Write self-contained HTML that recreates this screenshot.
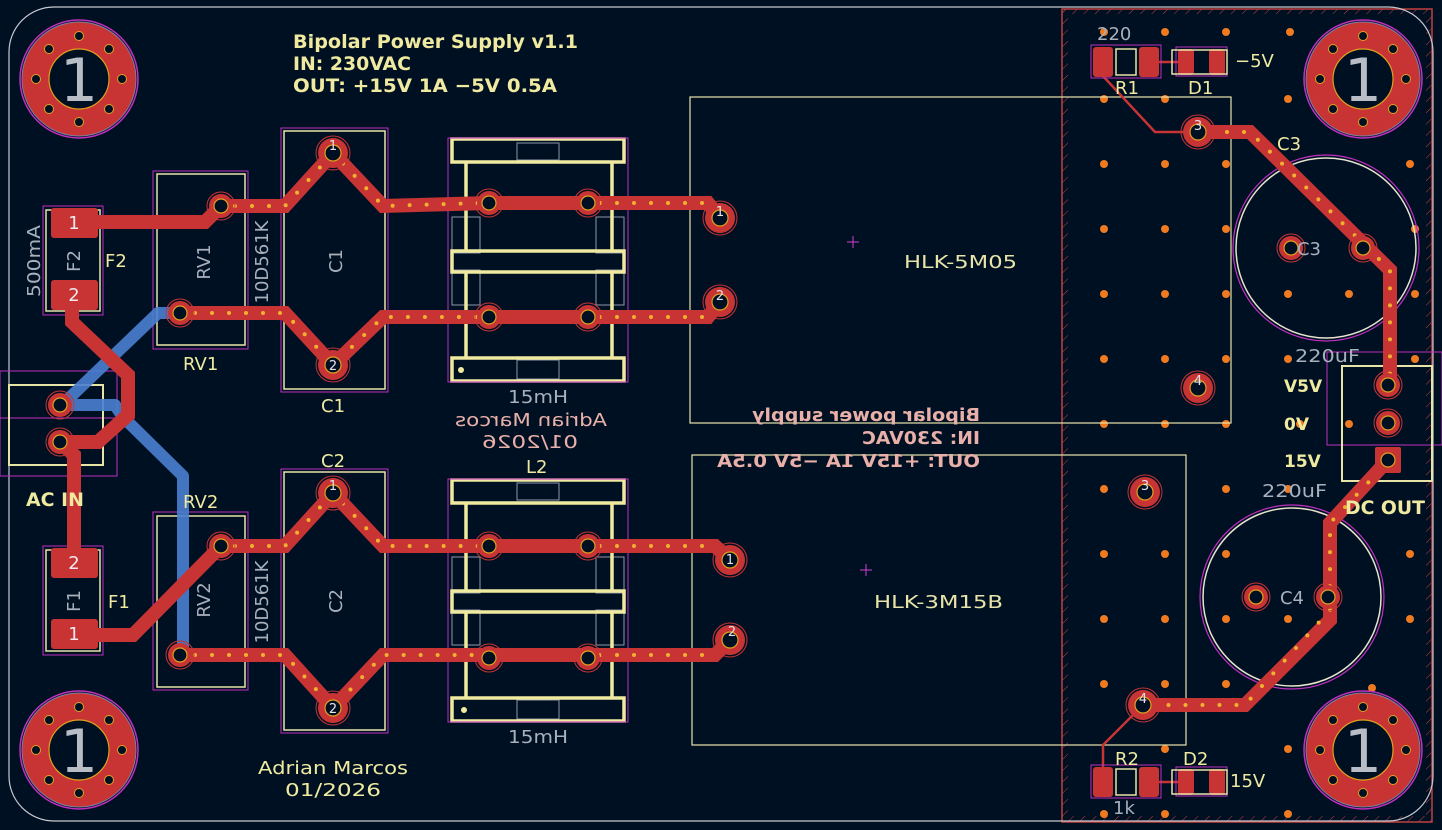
<!DOCTYPE html>
<html><head><meta charset="utf-8"><style>
html,body{margin:0;padding:0;background:#001023;}
svg{display:block}
text{font-family:"DejaVu Sans","Liberation Sans",sans-serif}
</style></head><body>
<svg width="1442" height="830" viewBox="0 0 1442 830" xmlns="http://www.w3.org/2000/svg">
<defs>
<pattern id="hatch" width="8" height="8" patternUnits="userSpaceOnUse" patternTransform="rotate(45)">
<line x1="0" y1="0" x2="0" y2="8" stroke="#c04040" stroke-width="1"/>
</pattern>
<g id="mh">
<circle r="59" fill="none" stroke="#c030c0" stroke-width="1.5"/>
<circle r="57" fill="#c83434" stroke="#8080a0" stroke-width="1"/>
<circle r="30" fill="#001023" stroke="#e0a020" stroke-width="1.2"/>
<g fill="#001023" stroke="#e0a020" stroke-width="1">
<circle cx="0" cy="-43" r="4.5"/><circle cx="0" cy="43" r="4.5"/><circle cx="-43" cy="0" r="4.5"/><circle cx="43" cy="0" r="4.5"/>
<circle cx="30" cy="-30" r="4.5"/><circle cx="-30" cy="-30" r="4.5"/><circle cx="30" cy="30" r="4.5"/><circle cx="-30" cy="30" r="4.5"/>
</g>
<text x="0" y="22" font-size="60" fill="#b8bcc4" text-anchor="middle">1</text>
</g>
<g id="pad">
<circle r="14" fill="none" stroke="#c83434" stroke-width="1"/>
<circle r="12" fill="#c83434"/>
<circle r="7" fill="#001023" stroke="#e0a020" stroke-width="1.2"/>
</g>
<g id="bpad">
<circle r="17" fill="none" stroke="#c83434" stroke-width="1"/>
<circle r="15" fill="#c83434"/>
<circle r="8" fill="#001023" stroke="#e0a020" stroke-width="1.2"/>
</g>
</defs>

<rect x="1062" y="9" width="370" height="813" fill="none" stroke="#c04040" stroke-width="1.5"/>
<rect x="1062" y="9" width="6" height="813" fill="url(#hatch)"/>
<rect x="1426" y="9" width="6" height="813" fill="url(#hatch)"/>
<rect x="1062" y="9" width="370" height="5" fill="url(#hatch)"/>
<rect x="1062" y="816" width="370" height="6" fill="url(#hatch)"/>

<rect x="9" y="7" width="1424" height="814" rx="45" fill="none" stroke="#c8c8d0" stroke-width="1.2"/>

<g fill="#f07a20">
<circle cx="1104" cy="32" r="4"/><circle cx="1165" cy="32" r="4"/><circle cx="1226" cy="32" r="4"/><circle cx="1290" cy="32" r="4"/>
<circle cx="1104" cy="99" r="4"/><circle cx="1165" cy="99" r="4"/><circle cx="1288" cy="99" r="4"/>
<circle cx="1104" cy="164" r="4"/><circle cx="1165" cy="164" r="4"/><circle cx="1226" cy="164" r="4"/><circle cx="1410" cy="164" r="4"/>
<circle cx="1104" cy="229" r="4"/><circle cx="1165" cy="229" r="4"/><circle cx="1226" cy="229" r="4"/><circle cx="1415" cy="229" r="4"/>
<circle cx="1104" cy="294" r="4"/><circle cx="1165" cy="294" r="4"/><circle cx="1226" cy="294" r="4"/><circle cx="1288" cy="294" r="4"/><circle cx="1349" cy="294" r="4"/><circle cx="1415" cy="294" r="4"/>
<circle cx="1104" cy="359" r="4"/><circle cx="1165" cy="359" r="4"/><circle cx="1226" cy="359" r="4"/><circle cx="1288" cy="359" r="4"/><circle cx="1415" cy="359" r="4"/>
<circle cx="1104" cy="424" r="4"/><circle cx="1165" cy="424" r="4"/><circle cx="1226" cy="424" r="4"/><circle cx="1349" cy="424" r="4"/><circle cx="1300" cy="424" r="4"/>
<circle cx="1104" cy="489" r="4"/><circle cx="1226" cy="489" r="4"/><circle cx="1288" cy="489" r="4"/>
<circle cx="1104" cy="554" r="4"/><circle cx="1165" cy="554" r="4"/><circle cx="1226" cy="554" r="4"/><circle cx="1410" cy="554" r="4"/>
<circle cx="1104" cy="619" r="4"/><circle cx="1165" cy="619" r="4"/><circle cx="1226" cy="619" r="4"/><circle cx="1288" cy="619" r="4"/><circle cx="1410" cy="619" r="4"/>
<circle cx="1104" cy="684" r="4"/><circle cx="1165" cy="684" r="4"/><circle cx="1226" cy="684" r="4"/><circle cx="1372" cy="688" r="4"/>
<circle cx="1165" cy="749" r="4"/><circle cx="1288" cy="749" r="4"/>
<circle cx="1104" cy="814" r="4"/><circle cx="1165" cy="814" r="4"/><circle cx="1288" cy="814" r="4"/>
</g>

<use href="#mh" x="79" y="79"/><use href="#mh" x="1363" y="79"/>
<use href="#mh" x="79" y="750"/><use href="#mh" x="1363" y="750"/>

<rect x="690" y="97" width="541" height="326" fill="none" stroke="#e8e4a8" stroke-width="1.2"/>
<rect x="692" y="455" width="494" height="290" fill="none" stroke="#e8e4a8" stroke-width="1.2"/>
<text x="904" y="268" font-size="18" fill="#e8e4a8" textLength="113" lengthAdjust="spacingAndGlyphs">HLK-5M05</text>
<text x="874" y="608" font-size="18" fill="#e8e4a8" textLength="129" lengthAdjust="spacingAndGlyphs">HLK-3M15B</text>
<g stroke="#d040d0" stroke-width="1"><line x1="847" y1="242" x2="859" y2="242"/><line x1="853" y1="236" x2="853" y2="248"/><line x1="860" y1="570" x2="872" y2="570"/><line x1="866" y1="564" x2="866" y2="576"/></g>

<circle cx="1326" cy="248" r="93" fill="none" stroke="#c030c0" stroke-width="1.2"/>
<circle cx="1326" cy="248" r="90" fill="none" stroke="#e8e4d0" stroke-width="1.5"/>
<circle cx="1292" cy="597" r="92" fill="none" stroke="#c030c0" stroke-width="1.2"/>
<circle cx="1292" cy="597" r="89" fill="none" stroke="#e8e4d0" stroke-width="1.5"/>

<rect x="1327" y="352" width="115" height="93" fill="none" stroke="#c030c0" stroke-width="1"/>
<rect x="1342" y="366" width="90" height="115" fill="none" stroke="#e8e4a8" stroke-width="2"/>
<rect x="0" y="371" width="117" height="47" fill="none" stroke="#c030c0" stroke-width="1"/>
<rect x="0" y="371" width="117" height="105" fill="none" stroke="#c030c0" stroke-width="1"/>
<rect x="9" y="385" width="94" height="80" fill="none" stroke="#e8e4a8" stroke-width="2"/>

<rect x="43" y="206" width="60" height="109" fill="none" stroke="#c030c0" stroke-width="1"/>
<rect x="46" y="210" width="54" height="101" fill="none" stroke="#e8e4a8" stroke-width="1.5"/>
<rect x="43" y="546" width="60" height="109" fill="none" stroke="#c030c0" stroke-width="1"/>
<rect x="46" y="550" width="54" height="101" fill="none" stroke="#e8e4a8" stroke-width="1.5"/>

<rect x="153" y="171" width="95" height="178" fill="none" stroke="#c030c0" stroke-width="1"/>
<rect x="157" y="174" width="88" height="171" fill="none" stroke="#e8e4a8" stroke-width="1.5"/>
<rect x="153" y="512" width="95" height="178" fill="none" stroke="#c030c0" stroke-width="1"/>
<rect x="157" y="516" width="88" height="171" fill="none" stroke="#e8e4a8" stroke-width="1.5"/>
<rect x="281" y="128" width="107" height="264" fill="none" stroke="#c030c0" stroke-width="1"/>
<rect x="284" y="131" width="101" height="258" fill="none" stroke="#e8e4a8" stroke-width="1.5"/>
<rect x="281" y="469" width="107" height="264" fill="none" stroke="#c030c0" stroke-width="1"/>
<rect x="284" y="472" width="101" height="258" fill="none" stroke="#e8e4a8" stroke-width="1.5"/>

<!-- L thin inner gray rects -->
<g fill="none" stroke="#9098a8" stroke-width="1">
<rect x="517" y="143" width="42" height="17"/><rect x="517" y="360" width="42" height="19"/>
<rect x="452" y="217" width="28" height="36"/><rect x="596" y="217" width="28" height="36"/>
<rect x="452" y="270" width="28" height="35"/><rect x="596" y="270" width="28" height="35"/>
<rect x="517" y="483" width="42" height="17"/><rect x="517" y="700" width="42" height="19"/>
<rect x="452" y="557" width="28" height="36"/><rect x="596" y="557" width="28" height="36"/>
<rect x="452" y="610" width="28" height="35"/><rect x="596" y="610" width="28" height="35"/>
</g>
<g fill="none" stroke="#efeaa0" stroke-width="3.5">
<rect x="452" y="139" width="172" height="23"/><rect x="452" y="251" width="172" height="21"/><rect x="452" y="358" width="172" height="23"/>
<line x1="466" y1="162" x2="466" y2="251"/><line x1="612" y1="162" x2="612" y2="251"/><line x1="466" y1="272" x2="466" y2="358"/><line x1="612" y1="272" x2="612" y2="358"/>
<rect x="452" y="480" width="172" height="23"/><rect x="452" y="591" width="172" height="21"/><rect x="452" y="698" width="172" height="23"/>
<line x1="466" y1="503" x2="466" y2="591"/><line x1="612" y1="503" x2="612" y2="591"/><line x1="466" y1="612" x2="466" y2="698"/><line x1="612" y1="612" x2="612" y2="698"/>
</g>
<rect x="448" y="138" width="180" height="244" fill="none" stroke="#c030c0" stroke-width="1"/>
<rect x="448" y="479" width="180" height="243" fill="none" stroke="#c030c0" stroke-width="1"/>
<circle cx="461" cy="370" r="3" fill="#efeaa0"/><circle cx="464" cy="710" r="3" fill="#efeaa0"/>

<g fill="none" stroke="#4a7fd0" stroke-width="12" stroke-linejoin="round" opacity="0.9">
<polyline points="180,313 158,313 62,405"/>
<polyline points="60,405 115,405 122,416 183,476 183,655"/>
</g>

<g fill="none" stroke="#c83434" stroke-width="14" stroke-linejoin="miter">
<polyline points="74,222 205,222 221,206 285,206 333,153 383,206 489,203 588,203 708,203 720,218"/>
<polyline points="180,313 285,313 333,365 383,317 489,317 588,317 708,317 720,302"/>
<polyline points="72,296 72,322 128,375 128,415 98,442 60,442"/>
<polyline points="60,442 74,455 74,560"/>
<polyline points="74,635 133,635 221,546 285,546 333,493 383,546 489,546 588,546 715,546 730,560"/>
<polyline points="180,655 285,655 333,708 383,655 489,655 588,655 715,655 730,640"/>
<polyline points="1198,132 1250,132 1390,270 1390,385"/>
<polyline points="1388,460 1330,523 1330,620 1245,705 1145,705"/>
</g>
<g fill="none" stroke="#c83434" stroke-width="2.5">
<polyline points="1102,62 1102,75 1155,132 1198,132"/>
<polyline points="1143,62 1185,62"/>
<polyline points="1143,705 1103,745 1103,782"/>
<polyline points="1143,782 1183,782"/>
</g>
<g fill="none" stroke="#f0b030" stroke-width="4" stroke-linecap="round" stroke-dasharray="0 17">
<polyline points="235,206 285,206 333,153 383,206 480,203"/>
<polyline points="600,203 708,203"/>
<polyline points="195,313 285,313 333,365 383,317 480,317"/>
<polyline points="600,317 708,317"/>
<polyline points="235,546 285,546 333,493 383,546 480,546"/>
<polyline points="600,546 715,546"/>
<polyline points="195,655 285,655 333,708 383,655 480,655"/>
<polyline points="600,655 715,655"/>
<polyline points="1210,132 1250,132 1390,270 1390,375"/>
<polyline points="1380,470 1330,523 1330,590"/>
<polyline points="1330,610 1245,705 1160,705"/>
</g>

<g fill="#c83434">
<rect x="51" y="208" width="47" height="30" rx="3"/><rect x="51" y="280" width="47" height="30" rx="3"/>
<rect x="51" y="548" width="47" height="30" rx="3"/><rect x="51" y="619" width="47" height="30" rx="3"/>
<rect x="1093" y="47" width="20" height="30" rx="3"/><rect x="1139" y="47" width="20" height="30" rx="3"/>
<rect x="1178" y="49" width="16" height="26" rx="3"/><rect x="1209" y="49" width="16" height="26" rx="3"/>
<rect x="1093" y="767" width="20" height="30" rx="3"/><rect x="1139" y="767" width="20" height="30" rx="3"/>
<rect x="1178" y="769" width="16" height="26" rx="3"/><rect x="1209" y="769" width="16" height="26" rx="3"/>
<rect x="1375" y="447" width="26" height="26" rx="2"/>
</g>
<g fill="none" stroke="#c030c0" stroke-width="1">
<rect x="1091" y="45" width="70" height="33"/><rect x="1176" y="47" width="51" height="29"/>
<rect x="1091" y="765" width="70" height="33"/><rect x="1176" y="767" width="51" height="29"/>
</g>
<g fill="none" stroke="#e8e4a8" stroke-width="1.5">
<rect x="1116" y="49" width="20" height="26"/><rect x="1172" y="50" width="55" height="24"/>
<rect x="1116" y="769" width="20" height="26"/><rect x="1172" y="770" width="55" height="24"/>
</g>
<g fill="#f0e8f0" font-size="18" text-anchor="middle">
<text x="74" y="229">1</text><text x="74" y="301">2</text><text x="74" y="569">2</text><text x="74" y="640">1</text>
</g>

<use href="#pad" x="221" y="206"/><use href="#pad" x="180" y="313"/>
<use href="#pad" x="221" y="546"/><use href="#pad" x="180" y="655"/>
<use href="#bpad" x="333" y="153"/><use href="#bpad" x="333" y="365"/>
<use href="#bpad" x="333" y="493"/><use href="#bpad" x="333" y="708"/>
<use href="#pad" x="489" y="203"/><use href="#pad" x="588" y="203"/><use href="#pad" x="489" y="317"/><use href="#pad" x="588" y="317"/>
<use href="#pad" x="489" y="546"/><use href="#pad" x="588" y="546"/><use href="#pad" x="489" y="658"/><use href="#pad" x="588" y="658"/>
<use href="#bpad" x="720" y="218"/><use href="#bpad" x="720" y="302"/>
<use href="#bpad" x="730" y="560"/><use href="#bpad" x="730" y="640"/>
<use href="#pad" x="60" y="405"/><use href="#pad" x="60" y="442"/>
<use href="#bpad" x="1198" y="132"/><use href="#bpad" x="1198" y="388"/>
<use href="#bpad" x="1145" y="492"/><use href="#bpad" x="1143" y="705"/>
<use href="#pad" x="1291" y="248"/><use href="#pad" x="1363" y="248"/>
<use href="#pad" x="1256" y="597"/><use href="#pad" x="1328" y="597"/>
<use href="#pad" x="1388" y="385"/><use href="#pad" x="1388" y="423"/>
<circle cx="1388" cy="460" r="7" fill="#001023" stroke="#e0a020" stroke-width="1.2"/>
<g fill="#e8e0e8" font-size="13" text-anchor="middle">
<text x="1198" y="130">3</text><text x="1198" y="385">4</text><text x="1145" y="490">3</text><text x="1143" y="703">4</text>
<text x="720" y="216">1</text><text x="720" y="300">2</text><text x="730" y="564">1</text><text x="732" y="636">2</text>
<text x="333" y="150">1</text><text x="333" y="370">2</text><text x="333" y="490">1</text><text x="333" y="713">2</text>
</g>

<g fill="#efeaa0" font-weight="bold" font-size="19">
<text x="293" y="48" textLength="285" lengthAdjust="spacingAndGlyphs">Bipolar Power Supply v1.1</text>
<text x="293" y="70" textLength="118" lengthAdjust="spacingAndGlyphs">IN: 230VAC</text>
<text x="293" y="92" textLength="264" lengthAdjust="spacingAndGlyphs">OUT: +15V 1A −5V 0.5A</text>
<text x="26" y="506" textLength="58" lengthAdjust="spacingAndGlyphs">AC IN</text>
<text x="1345" y="514" textLength="80" lengthAdjust="spacingAndGlyphs">DC OUT</text>
<text x="1284" y="392" font-size="17">V5V</text>
<text x="1284" y="430" font-size="17">0V</text>
<text x="1284" y="467" font-size="17">15V</text>
</g>
<g fill="#efeaa0" font-size="18">
<text x="105" y="267">F2</text><text x="108" y="608">F1</text>
<text x="183" y="370">RV1</text><text x="183" y="508">RV2</text>
<text x="321" y="412">C1</text><text x="321" y="467">C2</text>
<text x="526" y="473">L2</text>
<text x="1277" y="150">C3</text>
<text x="1235" y="67">−5V</text><text x="1230" y="787">15V</text>
<text x="1115" y="94">R1</text><text x="1188" y="94">D1</text>
<text x="1115" y="765">R2</text><text x="1183" y="765">D2</text>
<text x="258" y="774" textLength="150" lengthAdjust="spacingAndGlyphs">Adrian Marcos</text>
<text x="285" y="796" textLength="96" lengthAdjust="spacingAndGlyphs">01/2026</text>
</g>
<g fill="#a8b0bc" font-size="18">
<text x="1295" y="362" textLength="65" lengthAdjust="spacingAndGlyphs">220uF</text><text x="1262" y="497" textLength="65" lengthAdjust="spacingAndGlyphs">220uF</text>
<text x="1097" y="40">220</text><text x="1113" y="814">1k</text>
<text x="508" y="743" textLength="60" lengthAdjust="spacingAndGlyphs">15mH</text><text x="508" y="403" textLength="60" lengthAdjust="spacingAndGlyphs">15mH</text>
<text x="1309" y="255" text-anchor="middle">C3</text>
<text x="1292" y="604" text-anchor="middle">C4</text>
<text transform="translate(210,262) rotate(-90)" text-anchor="middle">RV1</text>
<text transform="translate(210,600) rotate(-90)" text-anchor="middle">RV2</text>
<text transform="translate(342,261) rotate(-90)" text-anchor="middle">C1</text>
<text transform="translate(342,601) rotate(-90)" text-anchor="middle">C2</text>
<text transform="translate(80,261) rotate(-90)" text-anchor="middle">F2</text>
<text transform="translate(80,601) rotate(-90)" text-anchor="middle">F1</text>
<text transform="translate(40,261) rotate(-90)" text-anchor="middle" textLength="72" lengthAdjust="spacingAndGlyphs">500mA</text>
<text transform="translate(268,262) rotate(-90)" text-anchor="middle">10D561K</text>
<text transform="translate(268,602) rotate(-90)" text-anchor="middle">10D561K</text>
</g>
<g fill="#e8b0a8" font-weight="bold" font-size="18" transform="translate(980,0) scale(-1,1)">
<text x="0" y="421" textLength="228" lengthAdjust="spacingAndGlyphs">Bipolar power supply</text>
<text x="0" y="444" textLength="118" lengthAdjust="spacingAndGlyphs">IN: 230VAC</text>
<text x="0" y="467" textLength="263" lengthAdjust="spacingAndGlyphs">OUT: +15V 1A −5V 0.5A</text>
</g>
<g fill="#e8b0a8" font-size="18" transform="translate(607,0) scale(-1,1)">
<text x="0" y="426" textLength="152" lengthAdjust="spacingAndGlyphs">Adrian Marcos</text>
<text x="29" y="448" textLength="96" lengthAdjust="spacingAndGlyphs">01/2026</text>
</g>
</svg>
</body></html>
